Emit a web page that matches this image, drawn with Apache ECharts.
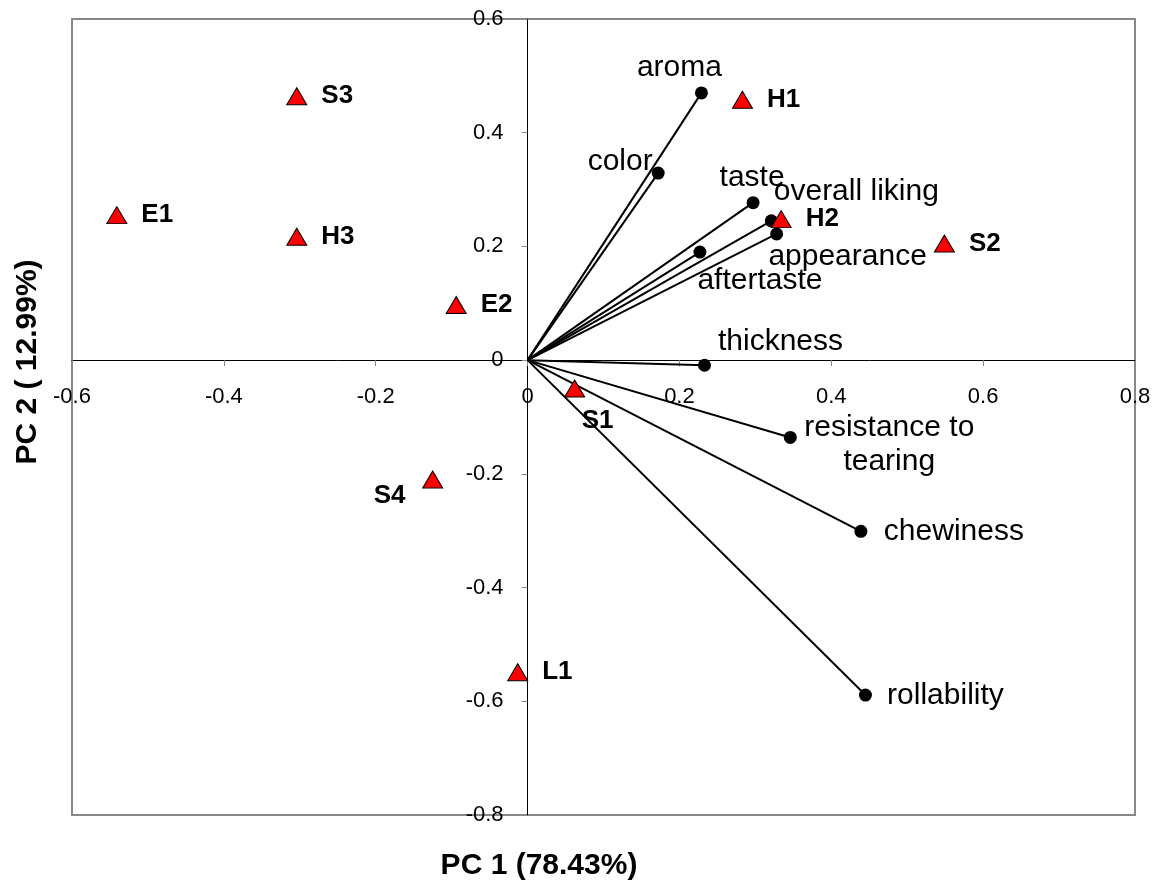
<!DOCTYPE html>
<html>
<head>
<meta charset="utf-8">
<script src="https://cdn.jsdelivr.net/npm/echarts@6/dist/echarts.min.js"></script>
<style>
  html, body { margin: 0; padding: 0; background: #fff; }
  #chart { width: 1154px; height: 884px; }
</style>
</head>
<body>
<div id="chart"></div>
<script>
// Sensory attribute loadings (PC1, PC2)
const attrNames = ['aroma', 'color', 'taste', 'overall liking', 'appearance', 'aftertaste',
  'thickness', 'resistance to\ntearing', 'chewiness', 'rollability'];
const attrPC1 = [0.229, 0.172, 0.297, 0.321, 0.328, 0.227, 0.233, 0.346, 0.439, 0.445];
const attrPC2 = [0.470, 0.329, 0.277, 0.245, 0.222, 0.190, -0.009, -0.136, -0.301, -0.589];

// Sample scores (PC1, PC2)
const sampleNames = ['S3', 'H1', 'E1', 'H3', 'E2', 'H2', 'S2', 'S1', 'S4', 'L1'];
const samplePC1 = [-0.304, 0.283, -0.541, -0.304, -0.094, 0.334, 0.549, 0.062, -0.125, -0.013];
const samplePC2 = [0.464, 0.458, 0.255, 0.217, 0.097, 0.248, 0.205, -0.050, -0.210, -0.549];

// Axis tick settings
const xTicks = { min: -0.6, max: 0.8, step: 0.2 };
const yTicks = { min: -0.8, max: 0.6, step: 0.2 };

// Label placement (pixel offsets from each point)
const attrLabelOffset = {
  'aroma': [-22, -25], 'color': [-38, -11], 'taste': [-1, -25],
  'overall liking': [85, -29], 'appearance': [71, 23], 'aftertaste': [60, 29],
  'thickness': [76, -24], 'resistance to\ntearing': [99, 7],
  'chewiness': [93, 0], 'rollability': [80, 1]
};
const sampleLabelOffset = { 'S1': [23, 32], 'S4': [-43, 16] };

const FONT = '"Liberation Sans", Arial, Helvetica, sans-serif';

// Plot frame in pixels
const G = { left: 72, right: 19, top: 19, bottom: 69, width: 1154, height: 884 };
const plotW = G.width - G.left - G.right;
const plotH = G.height - G.top - G.bottom;
// Shift the axes so they cross at the origin (labels and ticks travel with them)
const xAxisShift = -plotH * (0 - yTicks.min) / (yTicks.max - yTicks.min);
const yAxisShift = -plotW * (0 - xTicks.min) / (xTicks.max - xTicks.min);

const attrData = attrNames.map((n, i) => ({
  name: n,
  value: [attrPC1[i], attrPC2[i]],
  label: { offset: attrLabelOffset[n] }
}));

const sampleData = sampleNames.map((n, i) => {
  const d = { name: n, value: [samplePC1[i], samplePC2[i]] };
  if (sampleLabelOffset[n]) {
    d.label = { position: 'inside', offset: sampleLabelOffset[n] };
  }
  return d;
});

const vectorData = attrNames.map((n, i) => ({
  coords: [[0, 0], [attrPC1[i], attrPC2[i]]]
}));

const fmt = v => (Math.abs(v) < 1e-9 ? '0' : (Math.round(v * 10) / 10).toString());

const chart = echarts.init(document.getElementById('chart'), null, { renderer: 'canvas' });
chart.setOption({
  animation: false,
  backgroundColor: '#fff',
  grid: {
    left: G.left, right: G.right, top: G.top, bottom: G.bottom,
    show: true, borderColor: '#888', borderWidth: 2, backgroundColor: 'transparent'
  },
  xAxis: {
    type: 'value', min: xTicks.min, max: xTicks.max, interval: xTicks.step,
    position: 'bottom', offset: xAxisShift,
    axisLine: { onZero: false, lineStyle: { color: '#000', width: 1 } },
    axisTick: { show: true, length: 6, lineStyle: { color: '#888' } },
    axisLabel: { margin: 26, color: '#000', fontFamily: FONT, fontSize: 22, formatter: fmt },
    splitLine: { show: false }
  },
  yAxis: {
    type: 'value', min: yTicks.min, max: yTicks.max, interval: yTicks.step,
    position: 'left', offset: yAxisShift,
    axisLine: { onZero: false, lineStyle: { color: '#000', width: 1 } },
    axisTick: { show: true, length: 6, lineStyle: { color: '#888' } },
    axisLabel: { margin: 24, color: '#000', fontFamily: FONT, fontSize: 22, formatter: fmt },
    splitLine: { show: false }
  },
  graphic: [
    {
      type: 'text', x: 539, y: 866,
      style: {
        text: 'PC 1 (78.43%)', font: 'bold 30px ' + FONT, fill: '#000',
        align: 'center', verticalAlign: 'middle'
      }
    },
    {
      type: 'text', x: 28, y: 362, rotation: Math.PI / 2,
      style: {
        text: 'PC 2 ( 12.99%)', font: 'bold 30px ' + FONT, fill: '#000',
        align: 'center', verticalAlign: 'middle'
      }
    }
  ],
  series: [
    {
      type: 'lines',
      coordinateSystem: 'cartesian2d',
      polyline: false,
      silent: true,
      lineStyle: { color: '#000', width: 2, opacity: 1 },
      data: vectorData,
      z: 2
    },
    {
      type: 'scatter',
      symbol: 'circle',
      symbolSize: 13,
      itemStyle: { color: '#000', opacity: 1 },
      label: {
        show: true, position: 'inside', formatter: '{b}',
        color: '#000', fontFamily: FONT, fontSize: 30, lineHeight: 34, align: 'center'
      },
      data: attrData,
      z: 3
    },
    {
      type: 'scatter',
      symbol: 'triangle',
      symbolSize: [20, 17],
      itemStyle: { color: '#ff0000', borderColor: '#000', borderWidth: 1, opacity: 1 },
      label: {
        show: true, position: 'right', distance: 14, formatter: '{b}',
        color: '#000', fontFamily: FONT, fontSize: 26, fontWeight: 'bold'
      },
      data: sampleData,
      z: 4
    }
  ]
});
</script>
</body>
</html>
